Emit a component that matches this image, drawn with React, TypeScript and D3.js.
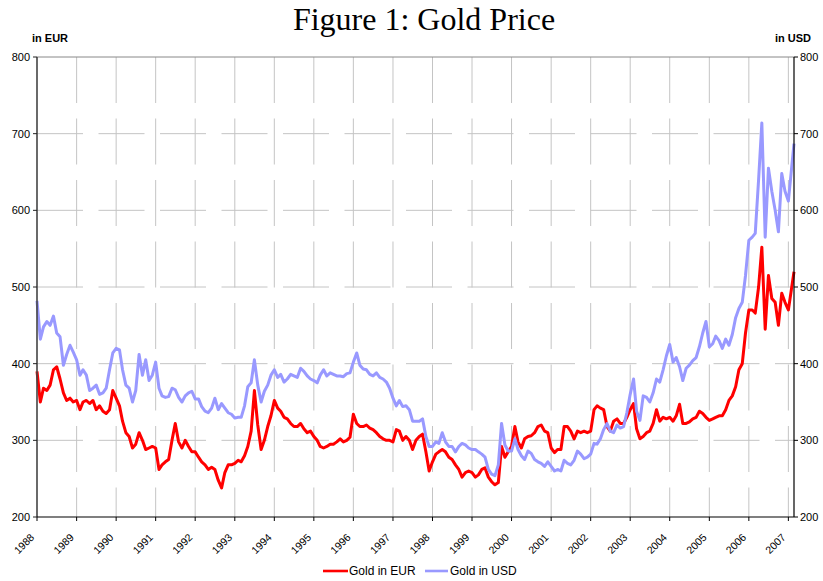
import React from 'react';
import * as d3 from 'd3';

// monthly readings, Jan 1988 .. Jan 2007, last value = end of series (Feb 2007)
const eurPrices = [
  390, 350, 368, 365, 372, 392, 396, 380, 362, 352, 355, 350,
  352, 340, 350, 352, 348, 352, 340, 345, 338, 335, 340, 365,
  355, 345, 325, 310, 305, 290, 295, 310, 300, 288, 290, 292,
  290, 262, 268, 272, 275, 300, 322, 298, 290, 300, 292, 285,
  285, 278, 272, 268, 262, 265, 262, 248, 238, 258, 268, 268,
  270, 274, 272, 280, 292, 312, 365, 320, 288, 300, 318, 332,
  352, 342, 338, 330, 328, 322, 318, 318, 322, 315, 310, 312,
  305, 300, 292, 290, 292, 295, 295, 298, 302, 298, 300, 304,
  334, 322, 318, 318, 320, 316, 314, 310, 305, 302, 300, 300,
  298, 314, 312, 300, 305, 300, 288, 300, 305, 308, 285, 260,
  272, 282, 285, 288, 285, 278, 275, 268, 262, 252, 258, 260,
  258, 252, 255, 262, 264, 252, 246, 242, 245, 292, 278, 285,
  292, 318, 298, 290, 302, 305, 306, 310, 318, 320, 312, 310,
  290, 284, 288, 288, 318, 318, 312, 302, 312, 310, 312, 310,
  312, 340, 345, 342, 340, 318, 312, 325, 328, 322, 322, 330,
  340, 348, 315, 302, 305, 310, 312, 322, 340, 325, 330, 328,
  330, 325, 332, 347, 322, 322, 324, 328, 330, 338, 335, 330,
  326, 328, 330, 332, 332, 340, 352, 358, 370, 392, 400, 440,
  470, 470, 466, 500, 552, 445, 515, 485, 480, 450, 492, 480,
  470, 520
];

const usdPrices = [
  482, 432, 448, 455, 450, 462, 440, 435, 398, 412, 424, 415,
  405, 385, 392, 385, 365, 368, 372, 360, 362, 368, 392, 414,
  420, 418, 392, 372, 368, 350, 365, 412, 385, 405, 378, 385,
  402, 368, 358, 356, 357, 368, 366, 356, 350, 358, 362, 364,
  354, 354, 344, 338, 336, 342, 355, 340, 348, 342, 336, 334,
  329, 330, 330, 345, 370, 375, 405, 372, 350, 364, 372, 385,
  392, 382, 386, 376, 380, 386, 384, 382, 394, 390, 384, 380,
  378, 375, 385, 392, 384, 388, 386, 384, 384, 383, 387, 388,
  402, 414, 398, 393, 392, 386, 384, 388, 382, 380, 376, 368,
  355, 345, 352, 344, 345, 340, 325, 325, 325, 328, 305, 292,
  292, 298, 296, 310, 298, 292, 292, 285, 292, 296, 294, 290,
  288, 288, 285, 282, 278, 262, 256, 254, 268, 322, 294, 286,
  286, 302, 288, 280, 275, 286, 283, 275, 272, 270, 266, 272,
  266, 260, 262, 260, 274, 270, 268, 274, 286, 282, 276, 278,
  282, 296, 295, 302, 314, 322, 312, 310, 320, 316, 318, 336,
  360, 380, 338, 326, 358, 356, 350, 362, 380, 376, 392, 410,
  425, 402, 408, 396, 378, 394, 398, 404, 408, 422, 440, 455,
  422, 426, 436, 430, 420, 432, 424, 438, 460, 472, 480, 515,
  561, 565, 570, 640, 714, 565, 655, 625, 600, 572, 648, 625,
  612, 687
];

const yearTicks = d3.range(1988, 2008);
const priceTicks = [200, 300, 400, 500, 600, 700, 800];

const startDate = new Date(1988, 0, 1);
const endDate = new Date(2007, 1, 22);
const dates = [...d3.timeMonth.range(startDate, new Date(2007, 1, 1)), endDate];

const sans = '"Liberation Sans", Arial, Helvetica, sans-serif';

export default function App() {
  const width = 823, height = 581;
  const left = 37, right = 794, top = 57, bottom = 517;

  const x = d3.scaleTime().domain([startDate, endDate]).range([left, right]);
  const yEur = d3.scaleLinear().domain([200, 800]).range([bottom, top]);
  const yUsd = d3.scaleLinear().domain([200, 800]).range([bottom, top]);

  const lineEur = d3.line<number>()
    .x((d, i) => x(dates[i]))
    .y(d => yEur(d));
  const lineUsd = d3.line<number>()
    .x((d, i) => x(dates[i]))
    .y(d => yUsd(d));

  return (
    <svg width={width} height={height} style={{ position: 'absolute', left: 0, top: 0, background: '#fff' }}>
      <text x={424} y={30} textAnchor="middle" fontFamily='"Liberation Serif", "Times New Roman", serif' fontSize={32}>
        Figure 1: Gold Price
      </text>
      <text x={32} y={42} fontFamily={sans} fontSize={11} fontWeight="bold">in EUR</text>
      <text x={775} y={42} fontFamily={sans} fontSize={11} fontWeight="bold">in USD</text>

      {/* grid */}
      {priceTicks.filter(v => v > 200 && v < 800).map(v => (
        <line key={'h' + v} x1={left} x2={right} y1={yEur(v)} y2={yEur(v)}
          stroke="#c4c4c4" strokeWidth={1} strokeDasharray="46 15.5" />
      ))}
      {yearTicks.slice(1).map(yr => (
        <line key={'v' + yr} x1={x(new Date(yr, 0, 1))} x2={x(new Date(yr, 0, 1))} y1={top} y2={bottom}
          stroke="#c4c4c4" strokeWidth={1} strokeDasharray="46 15.5" />
      ))}
      <line x1={left} x2={right} y1={top} y2={top} stroke="#888" strokeWidth={1} />

      {/* series */}
      <path d={lineEur(eurPrices) || ''} fill="none" stroke="#ff0000" strokeWidth={3} strokeLinejoin="round" />
      <path d={lineUsd(usdPrices) || ''} fill="none" stroke="#9999ff" strokeWidth={3} strokeLinejoin="round" />

      {/* left axis */}
      <line x1={left} x2={left} y1={top} y2={bottom} stroke="#444" strokeWidth={1.6} />
      {priceTicks.map(v => (
        <g key={'l' + v} transform={`translate(${left},${yEur(v)})`}>
          <line x1={-4} x2={0} stroke="#222" />
          <text x={-7} dy="0.35em" textAnchor="end" fontFamily={sans} fontSize={11}>{v}</text>
        </g>
      ))}

      {/* right axis */}
      <line x1={right} x2={right} y1={top} y2={bottom} stroke="#000" strokeWidth={1.2} />
      {priceTicks.map(v => (
        <g key={'r' + v} transform={`translate(${right},${yUsd(v)})`}>
          <line x1={0} x2={4} stroke="#000" />
          <text x={6} dy="0.35em" fontFamily={sans} fontSize={11}>{v}</text>
        </g>
      ))}

      {/* bottom axis */}
      <line x1={left} x2={right} y1={bottom} y2={bottom} stroke="#000" strokeWidth={1.2} />
      {yearTicks.map(yr => {
        const tx = x(new Date(yr, 0, 1));
        return (
          <g key={'b' + yr}>
            <line x1={tx} x2={tx} y1={bottom} y2={bottom + 4} stroke="#000" />
            <text transform={`translate(${tx - 2},${bottom + 21}) rotate(-45)`} textAnchor="end"
              fontFamily={sans} fontSize={10.5}>{yr}</text>
          </g>
        );
      })}

      {/* legend */}
      <line x1={323} x2={348} y1={571} y2={571} stroke="#ff0000" strokeWidth={2.6} />
      <text x={349} y={575} fontFamily={sans} fontSize={12}>Gold in EUR</text>
      <line x1={425} x2={448} y1={571} y2={571} stroke="#9999ff" strokeWidth={2.6} />
      <text x={450} y={575} fontFamily={sans} fontSize={12}>Gold in USD</text>
    </svg>
  );
}
